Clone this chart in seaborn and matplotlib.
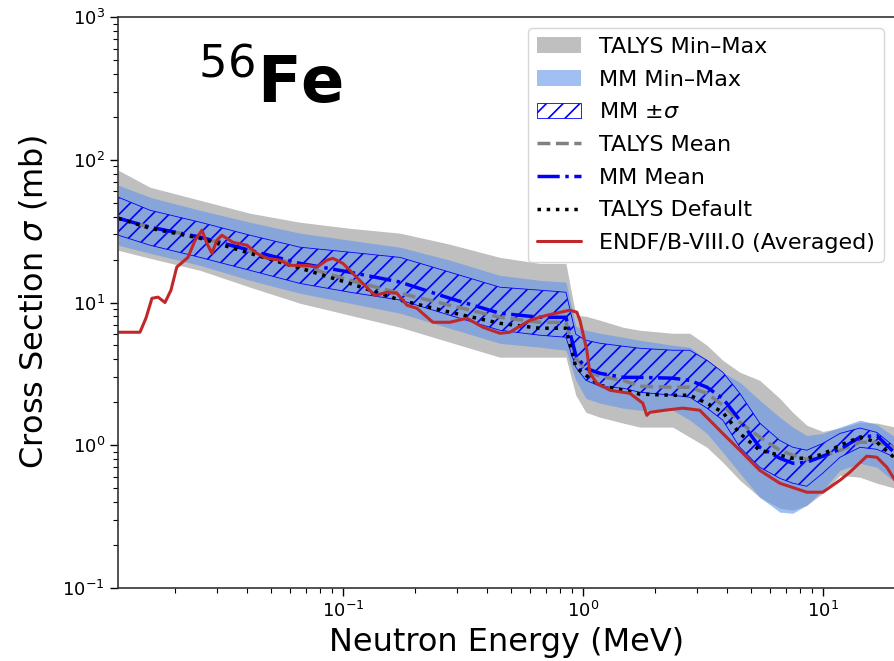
import numpy as np
import pandas as pd
import matplotlib
matplotlib.use("Agg")
import matplotlib.pyplot as plt
from matplotlib.patches import Patch
from matplotlib.lines import Line2D
import seaborn as sns

# ---------------- data ----------------
energy = [0.0116, 0.0157, 0.0254, 0.041, 0.0662, 0.107, 0.173, 0.279, 0.451, 0.662,
          0.85, 0.935, 1.03, 1.18, 1.47, 1.73, 2.37, 2.79, 3.29, 3.83,
          4.51, 5.46, 6.62, 7.50, 8.58, 10.0, 11.8, 14.3, 16.8, 20.0]

talys_max = [84.4, 64.2, 52.0, 42.2, 36.5, 33.1, 30.6, 25.6, 20.7, 18.8,
             18.8, 8.14, 8.01, 7.51, 6.71, 6.39, 6.09, 6.09, 5.02, 3.94,
             3.25, 2.85, 2.13, 1.70, 1.38, 1.25, 1.32, 1.45, 1.43, 1.34]
talys_min = [23.2, 20.4, 16.8, 12.8, 9.88, 8.14, 6.71, 5.27, 4.14, 4.14,
             4.14, 2.24, 1.70, 1.57, 1.43, 1.34, 1.34, 1.14, 0.968, 0.760,
             0.569, 0.432, 0.362, 0.351, 0.380, 0.461, 0.616, 0.597, 0.542, 0.500]
mm_max = [66.3, 54.6, 44.3, 36.5, 30.6, 27.3, 24.4, 19.8, 15.5, 14.3,
          13.9, 6.82, 6.39, 6.09, 5.71, 5.44, 5.02, 4.86, 3.94, 3.25,
          2.76, 2.07, 1.57, 1.34, 1.17, 1.21, 1.34, 1.50, 1.40, 1.14]
mm_min = [25.2, 22.1, 18.2, 14.3, 11.6, 9.88, 8.41, 6.60, 5.18, 4.86,
          4.63, 2.85, 2.13, 1.97, 1.82, 1.76, 1.76, 1.50, 1.21, 0.893,
          0.637, 0.432, 0.340, 0.334, 0.380, 0.484, 0.668, 0.748, 0.701, 0.551]
mm_sig_hi = [54.6, 44.3, 36.5, 29.6, 24.4, 22.5, 20.7, 16.3, 12.8, 12.2,
             11.8, 5.99, 5.44, 5.18, 4.94, 4.78, 4.63, 4.63, 3.94, 3.25,
             2.31, 1.43, 1.08, 0.968, 0.923, 1.03, 1.21, 1.32, 1.23, 0.968]
mm_sig_lo = [29.6, 25.2, 20.7, 16.8, 13.6, 11.8, 10.4, 8.14, 6.39, 5.90,
             5.71, 3.52, 2.85, 2.59, 2.51, 2.35, 2.24, 2.17, 1.82, 1.50,
             0.968, 0.701, 0.587, 0.542, 0.516, 0.637, 0.824, 0.968, 0.937, 0.824]
mm_mean = [38.9, 33.7, 28.7, 23.2, 18.8, 16.3, 13.9, 10.7, 8.41, 7.88,
           7.88, 4.27, 3.46, 3.19, 2.99, 2.99, 2.95, 2.85, 2.55, 2.13,
           1.50, 0.968, 0.811, 0.748, 0.760, 0.838, 0.937, 1.14, 1.17, 0.879]
talys_mean = [38.9, 33.7, 28.7, 22.9, 18.2, 14.3, 11.6, 9.57, 7.88, 7.27,
              7.27, 4.07, 3.35, 3.04, 2.85, 2.59, 2.55, 2.55, 2.31, 1.91,
              1.45, 1.14, 0.923, 0.851, 0.798, 0.838, 0.923, 1.05, 1.05, 0.968]
talys_default = [38.9, 33.1, 28.2, 22.1, 17.4, 13.6, 10.4, 8.55, 7.15, 6.60,
                 6.60, 3.52, 3.09, 2.63, 2.43, 2.28, 2.24, 2.24, 1.97, 1.70,
                 1.21, 0.923, 0.851, 0.811, 0.811, 0.865, 1.00, 1.14, 1.05, 0.811]

endf_energy = [0.0116, 0.01426, 0.0151, 0.0160, 0.01696, 0.01813, 0.0192, 0.0203, 0.0226, 0.0242,
               0.02585, 0.0271, 0.02845, 0.02985, 0.0313, 0.0348, 0.0398, 0.0438, 0.0482, 0.0546,
               0.0601, 0.0708, 0.0779, 0.0858, 0.0908, 0.100, 0.110, 0.121, 0.136, 0.1526,
               0.168, 0.185, 0.2034, 0.237, 0.279, 0.3286, 0.383, 0.451, 0.496, 0.601,
               0.708, 0.883, 0.944, 0.972, 1.039, 1.07, 1.144, 1.296, 1.57, 1.778,
               1.848, 1.902, 2.197, 2.61, 3.07, 3.83, 4.51, 5.46, 6.62, 8.58,
               10.0, 11.8, 12.96, 15.25, 16.8, 18.5, 20.0]
endf_xs = [6.19, 6.19, 7.76, 10.7, 10.9, 10.0, 12.2, 17.7, 20.7, 27.3,
           32.1, 26.0, 22.1, 27.3, 29.6, 26.4, 25.2, 22.1, 20.4, 19.8,
           18.2, 18.2, 17.7, 19.8, 20.4, 18.8, 16.0, 13.6, 11.2, 11.8,
           11.6, 9.57, 9.11, 7.27, 7.27, 7.76, 6.71, 6.09, 6.19, 7.51,
           8.14, 8.83, 8.55, 7.51, 4.63, 3.19, 2.72, 2.43, 2.31, 1.97,
           1.62, 1.70, 1.76, 1.82, 1.76, 1.21, 0.923, 0.668, 0.542, 0.469,
           0.469, 0.569, 0.647, 0.838, 0.824, 0.701, 0.569]

legend_labels = ["TALYS Min\u2013Max", "MM Min\u2013Max", r"MM $\pm\sigma$",
                 "TALYS Mean", "MM Mean", "TALYS Default", "ENDF/B-VIII.0 (Averaged)"]

# ---------------- figure ----------------
sns.set_style("ticks")
plt.rcParams["font.family"] = ["DejaVu Sans"]
plt.rcParams["text.color"] = "black"
plt.rcParams["axes.labelcolor"] = "black"
plt.rcParams["xtick.color"] = "black"
plt.rcParams["ytick.color"] = "black"
plt.rcParams["hatch.linewidth"] = 1.2

fig = plt.figure(figsize=(8.94, 6.61), dpi=100)
ax = fig.add_axes([118 / 894, 73 / 661, 777 / 894, 571 / 661])
ax.set_xscale("log")
ax.set_yscale("log")

df = pd.DataFrame({"E": energy, "tmax": talys_max, "tmin": talys_min,
                   "mmax": mm_max, "mmin": mm_min, "shi": mm_sig_hi, "slo": mm_sig_lo,
                   "mmean": mm_mean, "tmean": talys_mean, "tdef": talys_default})
endf = pd.DataFrame({"E": endf_energy, "xs": endf_xs})

ax.fill_between(df["E"], df["tmin"], df["tmax"], color="gray", alpha=0.5, lw=0)
ax.fill_between(df["E"], df["mmin"], df["mmax"], color="cornflowerblue", alpha=0.6, lw=0)
ax.fill_between(df["E"], df["slo"], df["shi"], facecolor="none", edgecolor="blue",
                hatch="//", lw=0.6)

sns.lineplot(data=df, x="E", y="tmean", ax=ax, color="gray", linestyle="--", lw=2.5)
sns.lineplot(data=df, x="E", y="mmean", ax=ax, color="blue", linestyle="-.", lw=2.5)
sns.lineplot(data=df, x="E", y="tdef", ax=ax, color="black", linestyle=":", lw=2.5)
sns.lineplot(data=endf, x="E", y="xs", ax=ax, color="#c0282a", linestyle="-", lw=2.2)

ax.set_xlim(0.01155, 20)
ax.set_ylim(0.1, 1000)
ax.set_xlabel("Neutron Energy (MeV)", fontsize=23, labelpad=4)
ax.set_ylabel(r"Cross Section $\sigma$ (mb)", fontsize=23, labelpad=9)
ax.tick_params(axis="both", which="major", labelsize=13, length=6, width=1.0)
ax.tick_params(axis="both", which="minor", length=3.5, width=0.8)
for s in ax.spines.values():
    s.set_linewidth(1.2)
    s.set_color("#333333")

ax.text(0.103, 0.851, r"$^{56}\mathbf{Fe}$", transform=ax.transAxes, fontsize=46,
        ha="left", va="baseline", color="black")

handles = [
    Patch(facecolor="gray", alpha=0.5, lw=0),
    Patch(facecolor="cornflowerblue", alpha=0.6, lw=0),
    Patch(facecolor="none", edgecolor="blue", hatch="//", lw=0.6),
    Line2D([], [], color="gray", linestyle="--", lw=2.5),
    Line2D([], [], color="blue", linestyle="-.", lw=2.5),
    Line2D([], [], color="black", linestyle=":", lw=2.5),
    Line2D([], [], color="#c0282a", linestyle="-", lw=2.2),
]
leg = ax.legend(handles, legend_labels, loc="upper right", fontsize=16, frameon=True,
                labelspacing=0.57)
for t in leg.get_texts():
    t.set_color("black")

fig.savefig("out.png", dpi=100)
